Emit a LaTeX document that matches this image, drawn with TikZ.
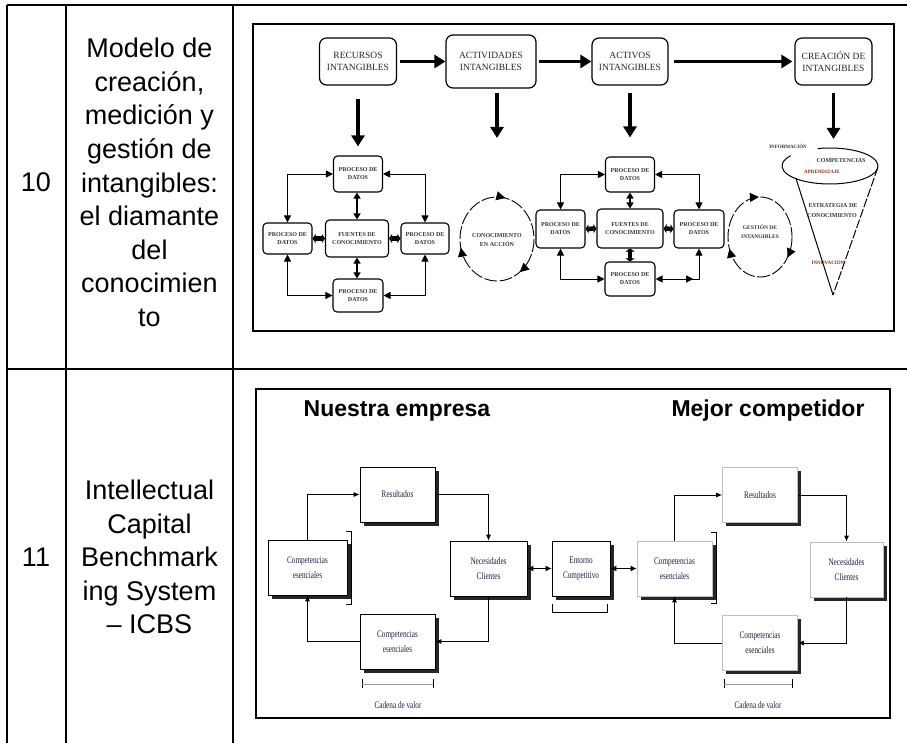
\documentclass[tikz,border=0pt]{standalone}
\usepackage{fontspec}
\setmainfont{Liberation Sans}
\newfontfamily\serifd{Liberation Serif}
\newfontfamily\condserif[FakeStretch=0.72]{Liberation Serif}
\usetikzlibrary{arrows.meta,decorations.markings}
\definecolor{dtext}{RGB}{30,30,60}
\definecolor{conered}{RGB}{140,40,20}

\begin{document}
\begin{tikzpicture}[x=1pt,y=-1pt,
  tbl/.style={line width=1.3pt},
  picframe/.style={line width=1.4pt},
  cell/.style={align=center,inner sep=0pt,font=\fontsize{27}{33.6}\selectfont},
  bigbox/.style={draw,rounded corners=7pt,line width=1.2pt,align=center,inner sep=0pt,
    minimum width=77pt,minimum height=47pt,text=black!85,font=\serifd\fontsize{9.5}{12.5}\selectfont},
  smallbox/.style={draw,rounded corners=4pt,line width=1.1pt,align=center,inner sep=0pt,
    minimum width=49pt,text=black!80,font=\serifd\bfseries\fontsize{6}{8}\selectfont},
  bigarrow/.style={line width=3.6pt,-{Triangle[length=11pt,width=13pt]}},
  link/.style={line width=0.9pt,{Triangle[length=7pt,width=7pt]}-{Triangle[length=7pt,width=7pt]}},
  stub/.style={line width=1.6pt,{Triangle[length=6pt,width=7pt]}-{Triangle[length=6pt,width=7pt]}},
  thickbar/.style={line width=4.5pt,{Triangle[length=3pt,width=9pt]}-{Triangle[length=3pt,width=9pt]}},
  ring/.style={line width=0.9pt,dash pattern=on 13pt off 2.5pt},
  ringarrow/.style={line width=0.9pt,-{Triangle[length=9pt,width=9pt]}},
  ringtext/.style={align=center,inner sep=0pt,text=black!80,font=\serifd\bfseries\fontsize{6}{8.5}\selectfont},
  conetext/.style={inner sep=0pt,text=black!80,font=\serifd\bfseries\fontsize{6}{8}\selectfont},
  dbox/.style={draw=black,line width=0.7pt,fill=white,minimum width=75pt,minimum height=55pt,
    align=center,inner sep=0pt,text=dtext,font=\condserif\fontsize{10}{15}\selectfont,
    preaction={draw=none,fill=black!85,transform canvas={shift={(3.5pt,-3.5pt)}}}},
  dboxr/.style={dbox,draw=black!25},
  dlink/.style={line width=0.8pt,-{Latex[length=6pt,width=5pt]}},
  dboth/.style={line width=1.6pt,{Latex[length=6pt,width=6pt]}-{Latex[length=6pt,width=6pt]}},
  brk/.style={line width=0.8pt},
  title/.style={inner sep=0pt,font=\bfseries\fontsize{23}{26}\selectfont},
  caption/.style={inner sep=0pt,text=dtext,font=\condserif\fontsize{10}{12}\selectfont}]

\fill[white] (0,0) rectangle (907,743);
\useasboundingbox (0,0) rectangle (907,743);

% ---------- table grid ----------
\draw[tbl] (7,5) -- (907,5);
\draw[tbl] (7,369) -- (907,369);
\draw[tbl] (7,5) -- (7,743);
\draw[tbl] (66,5) -- (66,743);
\draw[tbl] (233,5) -- (233,743);

\node[cell] (n10) at (36,182) {10};
\node[cell] (t10) at (149.5,182.5) {Modelo de\\creación,\\medición y\\gestión de\\intangibles:\\el diamante\\del\\conocimien\\to};
\node[cell] (n11) at (36,557) {11};
\node[cell] (t11) at (149.5,557) {Intellectual\\Capital\\Benchmark\\ing System\\– ICBS};

% ---------- knowledge diamond model ----------
\draw[picframe] (253,24) rectangle (894,331);

\node[bigbox] (rec) at (358,61.5) {RECURSOS\\INTANGIBLES};
\node[bigbox,minimum width=90pt,minimum height=53pt] (act) at (491,61.5) {ACTIVIDADES\\INTANGIBLES};
\node[bigbox,minimum width=76pt] (aci) at (630,61.5) {ACTIVOS\\INTANGIBLES};
\node[bigbox] (cre) at (833.5,61.5) {CREACIÓN DE\\INTANGIBLES};

\draw[bigarrow,shorten <=3pt] (rec) -- (act);
\draw[bigarrow,shorten <=2pt] (act) -- (aci);
\draw[bigarrow,shorten <=5pt,shorten >=2pt] (aci) -- (cre);

% left diamond
\node[smallbox,minimum height=36pt] (lt) at (358,174) {PROCESO DE\\DATOS};
\node[smallbox,minimum height=31pt] (ll) at (287.5,238.5) {PROCESO DE\\DATOS};
\node[smallbox,minimum width=63pt,minimum height=37pt] (lc) at (357,238.5) {FUENTES DE\\CONOCIMIENTO};
\node[smallbox,minimum width=48pt,minimum height=31pt] (lr) at (425,238.5) {PROCESO DE\\DATOS};
\node[smallbox,minimum width=50pt,minimum height=33pt] (lb) at (358,295.5) {PROCESO DE\\DATOS};

\draw[link] (lt.west) -| (ll.north);
\draw[link] (lt.east) -| (lr.north);
\draw[link] (ll.south) |- (lb.west);
\draw[link] (lb.east) -| (lr.south);
\draw[stub] (lc.north) -- (lc.north |- lt.south);
\draw[stub] (lc.south) -- (lc.south |- lb.north);
\draw[thickbar] (lc.west) -- (ll.east);
\draw[thickbar] (lc.east) -- (lr.west);

\draw[bigarrow,shorten <=13pt,shorten >=9pt] (rec.south) -- (lt.north);

% circle: knowledge in action (arrows run clockwise)
\coordinate (circL) at (497,239);
\draw[ring] (circL) ++(0:37 and 42) arc [start angle=0, end angle=360, x radius=37, y radius=42];
\foreach \a in {52,168,283}
  \draw[ringarrow] (circL) ++(\a-10:37 and 42) arc [start angle=\a-10, end angle=\a, x radius=37, y radius=42];
\node[ringtext] (cia) at (497,240) {CONOCIMIENTO\\EN ACCIÓN};
\coordinate (actTip) at (497,138);
\draw[bigarrow,shorten <=4pt] (act.south -| actTip) -- (actTip);

% right diamond
\node[smallbox,minimum height=35pt] (rt) at (630,174.5) {PROCESO DE\\DATOS};
\node[smallbox,minimum height=38pt] (rl) at (560.5,229) {PROCESO DE\\DATOS};
\node[smallbox,minimum width=66pt,minimum height=39pt] (rc) at (630,228.5) {FUENTES DE\\CONOCIMIENTO};
\node[smallbox,minimum width=50pt,minimum height=38pt] (rr) at (699,229) {PROCESO DE\\DATOS};
\node[smallbox,minimum width=50pt,minimum height=34pt] (rb) at (630,279) {PROCESO DE\\DATOS};

\draw[link] (rt.west) -| (rl.north);
\draw[link] (rt.east) -| (rr.north);
\draw[link] (rl.south) |- (rb.west);
\draw[link,postaction={decorate},decoration={markings,
    mark=at position 0.51 with {\arrow{Triangle[length=7pt,width=7pt]}}}]
  (rb.east) -| (rr.south);
\draw[stub] (rc.north) -- (rc.north |- rt.south);
\draw[thickbar] (rc.south) -- (rc.south |- rb.north);
\draw[thickbar] (rc.west) -- (rl.east);
\draw[thickbar] (rc.east) -- (rr.west);

\draw[bigarrow,shorten <=7pt,shorten >=19pt] (aci.south) -- (rt.north);

% circle: management of intangibles (arrows run clockwise)
\coordinate (circR) at (760,237);
\draw[ring] (circR) ++(0:32 and 40) arc [start angle=0, end angle=360, x radius=32, y radius=40];
\foreach \a in {31,163,268}
  \draw[ringarrow] (circR) ++(\a-10:32 and 40) arc [start angle=\a-10, end angle=\a, x radius=32, y radius=40];
\node[ringtext,font=\serifd\bfseries\fontsize{5.5}{9}\selectfont] (gdi) at (760,232) {GESTIÓN DE\\INTANGIBLES};

% cone of intangible creation
\coordinate (cc) at (830,166);
\coordinate (apex) at (833,295);
\draw[line width=1pt] (cc) ++(255:48 and 18) arc [start angle=255, end angle=575, x radius=48, y radius=18];
\draw[line width=1pt] (cc) ++(135:48 and 18) -- (apex);
\draw[line width=1pt,dash pattern=on 9pt off 2pt] (cc) ++(5:48 and 18) -- (apex);
\coordinate (creTip) at (833.5,139);
\draw[bigarrow,shorten <=7pt] (cre.south) -- (creTip);

\node[conetext,font=\serifd\bfseries\fontsize{5}{6}\selectfont] (inf) at (788,146) {INFORMACIÓN};
\node[conetext,font=\serifd\bfseries\fontsize{6}{7}\selectfont] (comp) at (841,161) {COMPETENCIAS};
\node[conetext,text=conered,font=\serifd\bfseries\fontsize{5}{6}\selectfont] (apr) at (822,172) {APRENDIZAJE};
\node[conetext] (est) at (833,206) {ESTRATEGIA DE};
\node[conetext] (con) at (832,216) {CONOCIMIENTO};
\node[conetext,text=conered,font=\serifd\bfseries\fontsize{5}{6}\selectfont] (inn) at (828,262) {INNOVACIÓN};

% ---------- ICBS benchmarking ----------
\draw[picframe,line width=1.3pt] (256,389) rectangle (890,718);

\node[title] (tne) at (397,411) {Nuestra empresa};
\node[title] (tmc) at (768,411) {Mejor competidor};

\node[dbox] (resL) at (397.5,494.5) {Resultados};
\node[dbox,minimum width=79pt] (compL) at (307.5,567.5) {Competencias\\esenciales};
\node[dbox,minimum width=77pt] (necL) at (488.5,568.5) {Necesidades\\Clientes};
\node[dbox,minimum width=58pt] (ent) at (581,568.5) {Entorno\\Competitivo};
\node[dboxr] (compR) at (674.5,568.5) {Competencias\\esenciales};
\node[dboxr] (resR) at (760,495) {Resultados};
\node[dboxr,minimum width=73pt] (necR) at (846.5,569.5) {Necesidades\\Clientes};
\node[dbox] (botL) at (397.5,641.5) {Competencias\\esenciales};
\node[dboxr] (botR) at (760,643) {Competencias\\esenciales};

\draw[dlink] (compL.north) |- (resL.west);
\draw[dlink] (resL.east) -| (necL.north);
\draw[dlink] (necL.south) |- (botL.east);
\draw[dlink] (botL.west) -| (compL.south);

\draw[dlink] (compR.north) |- (resR.west);
\draw[dlink] (resR.east) -| (necR.north);
\draw[dlink] (necR.south) |- (botR.east);
\draw[dlink] (botR.west) -| (compR.south);

\draw[dboth] (necL) -- (ent);
\draw[dboth] (ent) -- (compR);

% brackets
\draw[brk] (346,531) -- (351,531) -- (351,604) -- (346,604);
\draw[brk] (711,532) -- (716,532) -- (716,603) -- (711,603);
\draw[brk] (552,604) -- (552,612) -- (607,612) -- (607,604);
\draw[brk] (362,679) -- (362,688);
\draw[brk] (433,679) -- (433,688);
\draw[line width=0.6pt,black!40] (362,684) -- (433,684);
\draw[brk] (724,679) -- (724,688);
\draw[brk] (792,679) -- (792,688);
\draw[line width=0.6pt,black!40] (724,684) -- (792,684);

\node[caption] (cadL) at (398,705) {Cadena de valor};
\node[caption] (cadR) at (758,705) {Cadena de valor};

\end{tikzpicture}
\end{document}
